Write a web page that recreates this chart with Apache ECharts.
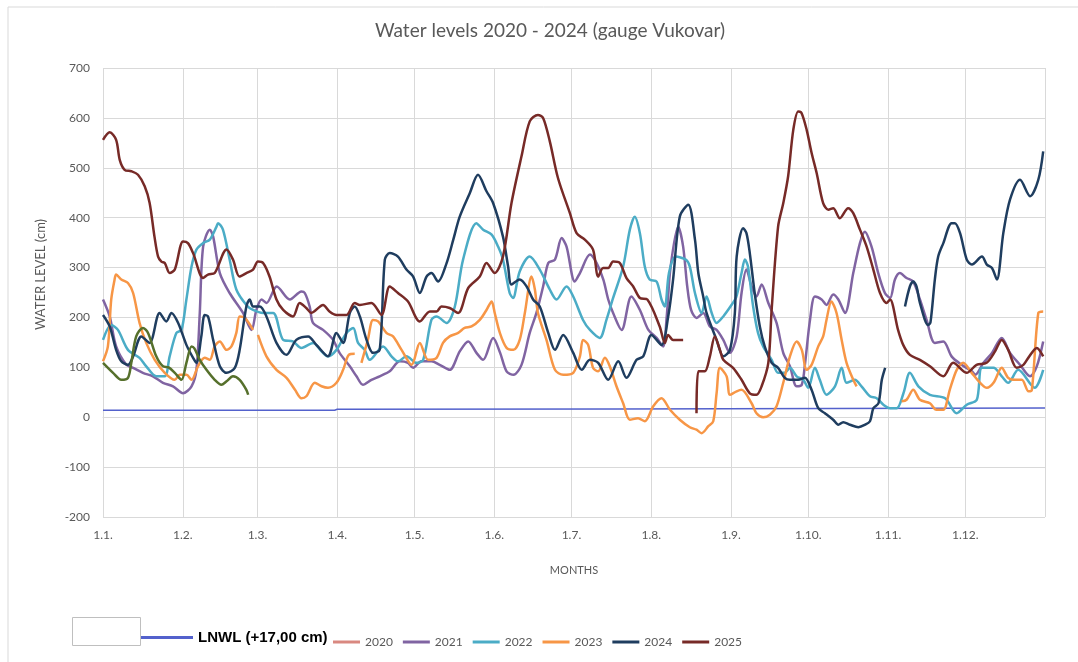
<!DOCTYPE html>
<html>
<head>
<meta charset="utf-8">
<script src="https://cdn.jsdelivr.net/npm/echarts@6/dist/echarts.min.js"></script>
<style>
html,body{margin:0;padding:0;background:#fff;}
#chart{width:1078px;height:662px;}
</style>
</head>
<body>
<div id="chart"></div>
<script>
// ---- DATA ----
const monthStartDays = [0, 31, 60, 91, 121, 152, 182, 213, 244, 274, 305, 335, 366];
const monthLabels = ['1.1.', '1.2.', '1.3.', '1.4.', '1.5.', '1.6.', '1.7.', '1.8.', '1.9.', '1.10.', '1.11.', '1.12.'];
const yearNames = ['2020', '2021', '2022', '2023', '2024', '2025'];

const lnwl = [[0, 14], [90, 14], [91, 16], [200, 16.5], [366, 18.5]];

const s2020 = [];

const s2021 = [[0,236],[2.6,202],[5.1,142],[9.1,105],[11.7,99],[15.5,89],[19.4,82],[23.3,69],[27.2,62],[31.1,48],[34.4,62],[36.3,95],[37.6,209],[38.9,342],[41.5,376],[42.8,362],[45.4,289],[49.2,249],[54.4,209],[57.7,175],[59.6,215],[61.6,236],[63.5,229],[67.5,262],[72.6,236],[77.1,252],[78.4,249],[80.3,222],[81.6,189],[85.5,175],[89.4,155],[91.9,129],[95.9,102],[98.5,82],[101,65],[104.3,75],[107.5,82],[111.4,92],[115.3,112],[118.5,109],[120.5,99],[123.7,112],[127.6,112],[130.8,105],[134.7,95],[138.6,132],[141.9,152],[145.1,129],[147.7,115],[151.6,159],[154.3,129],[156.8,92],[159.5,85],[162.6,105],[165.8,169],[168.4,209],[171,262],[173,309],[175.6,316],[178.2,359],[180.1,342],[183.3,272],[185.3,289],[189.2,326],[191.8,309],[194.4,276],[196.3,236],[198.2,209],[201.5,175],[205.3,242],[208.6,215],[211.9,175],[215.1,159],[217.6,142],[219,200],[220.5,300],[223.5,382],[225.4,342],[227,262],[228.5,215],[230.6,199],[233.2,209],[235.8,182],[238.4,175],[241,155],[243.6,129],[246.2,162],[248.1,249],[250,296],[252,262],[253.9,242],[255.9,266],[258.5,229],[261.7,189],[264.3,129],[266.9,102],[269.5,62],[271.5,65],[272.8,109],[274.7,195],[276.6,242],[279.2,236],[281.1,225],[283.7,246],[285.7,236],[288.3,209],[291.5,289],[294.1,349],[296,372],[298.6,342],[301.2,289],[303.8,249],[305.8,239],[307.7,276],[309.6,289],[312.2,279],[314.8,272],[317.4,236],[320,195],[323.2,149],[326.5,152],[329.7,122],[333.6,105],[337.6,92],[338.9,85],[342.1,109],[345.4,129],[349.2,159],[352.4,129],[356.3,105],[360.2,82],[362.8,102],[365.3,152]];

const s2022 = [[0,155],[3.2,185],[5.8,175],[9.7,135],[14.2,119],[16.8,102],[20.7,82],[24,82],[25.9,122],[28.5,169],[30.5,175],[32.4,236],[34.4,302],[36.3,336],[38.9,349],[41.5,356],[44.1,382],[44.7,389],[46.6,376],[49.2,316],[51.8,256],[55.7,225],[58.3,215],[62.2,209],[66.1,209],[70,155],[73.8,152],[77.1,139],[81.6,149],[84.9,132],[87.4,122],[90.7,135],[94.6,169],[97.2,179],[99.1,149],[101.7,135],[103.6,115],[108.8,142],[112.1,122],[114.6,112],[117.9,122],[121.8,109],[124.4,115],[127.6,195],[129.6,202],[133.5,189],[136.7,222],[139.9,316],[145.1,389],[147.7,376],[151,366],[153.5,342],[155.4,316],[158,249],[159.3,239],[161.9,292],[165.8,322],[169.7,296],[173.6,256],[176.2,236],[180.1,262],[182.7,242],[186.5,195],[189.2,175],[193,159],[195.6,195],[198.2,239],[202.1,302],[204.7,376],[206.6,402],[208.6,369],[210.5,302],[212.4,276],[215.1,272],[217,236],[218.3,222],[219.9,289],[222.5,322],[226.4,316],[228,302],[230,249],[232.6,209],[234.5,242],[236.5,209],[238.4,189],[241,202],[244.2,225],[246,240],[248.1,289],[249.4,316],[250.6,302],[252.6,222],[254.5,169],[256.5,142],[259.8,115],[262.3,89],[264.9,89],[266.9,99],[269.5,82],[272.1,75],[274,59],[276.6,99],[278.5,75],[281.1,45],[284.4,62],[287,99],[288.9,69],[292.1,75],[294.7,62],[298,42],[300.6,38],[303.2,25],[305.8,18],[308.4,18],[311,48],[313.5,89],[316.8,62],[321.3,45],[327.2,38],[331.7,8],[335.6,25],[339.5,35],[341.5,99],[346,99],[349.2,82],[351.7,69],[355.6,95],[362,59],[365.3,95]];

const s2023 = [[0,112],[1.9,142],[3.2,236],[4.5,276],[5.1,286],[7.1,276],[9.7,269],[11.7,249],[14.2,189],[16.8,149],[20.1,115],[24,89],[27.9,75],[29.8,85],[32.4,85],[34.4,75],[36.9,102],[39.5,119],[41.5,115],[43.4,142],[45.4,152],[48,135],[49.9,142],[51.8,169],[53.1,202],[55.1,199],[58.3,175],[59.2,null],[60.2,165],[63.5,122],[67.4,95],[71.3,79],[74.6,55],[77.1,38],[79,42],[82.3,69],[84.9,62],[87.4,59],[90.7,69],[93.3,95],[95.5,125],[97.8,127],[99,null],[100.4,109],[102.9,155],[104.9,195],[106.9,192],[110.1,169],[112.7,162],[116,135],[119.9,105],[123.1,149],[126.3,115],[129.6,119],[132.1,149],[134.7,162],[138,169],[140.5,179],[143.2,182],[146.4,195],[149,215],[151,232],[152.2,209],[154.2,169],[156.8,139],[159.5,135],[161.9,155],[163.9,209],[166.5,282],[167.8,256],[169,209],[172.3,155],[175.6,95],[178.8,85],[182.7,89],[185.3,122],[186.5,155],[188.5,145],[190.4,99],[192.4,92],[195,119],[196.9,102],[199.5,62],[202.1,28],[204.7,-5],[207.9,-2],[210.5,-8],[213.8,22],[217,38],[220.3,15],[224.1,-5],[228,-20],[230.6,-25],[232.6,-32],[235.2,-18],[237.1,-8],[238.4,48],[239.7,99],[242.3,82],[243.6,45],[246.2,52],[248.1,55],[252,28],[253.9,8],[256.5,0],[259.1,5],[261.7,22],[264.3,69],[266.9,122],[269.5,152],[271.5,135],[273.4,95],[275.3,105],[277.9,142],[279.8,162],[281.1,195],[283,232],[285,209],[287,155],[288.9,109],[291.5,75],[292.8,62],[300,null],[310.3,32],[312.2,35],[314.8,55],[317.4,35],[321.3,28],[323.8,15],[326.5,15],[329,55],[331.7,95],[334.2,109],[337.5,89],[340.8,69],[343.4,59],[346,69],[349.2,99],[351.7,79],[354.4,75],[357,75],[359.6,52],[360.9,55],[363.4,209],[365.3,212]];

const s2024 = [[0,205],[2.6,182],[5.1,135],[7.1,112],[9.7,105],[11.7,122],[14.9,162],[18.1,149],[22,209],[24.6,192],[26.6,209],[29.2,189],[32.4,145],[35,119],[36.3,109],[38.2,162],[39.5,205],[40.8,202],[42.8,155],[45.4,102],[48,89],[51.2,99],[53.1,135],[55.7,222],[57,236],[58.3,222],[60.9,222],[63.5,202],[67.4,149],[71.3,125],[75.1,155],[79.7,162],[82.9,145],[87.4,122],[90.7,169],[93.3,149],[95.9,209],[97.8,222],[99.8,202],[102.4,155],[104.9,129],[107.5,135],[109.5,316],[111.4,329],[114.6,322],[117.9,296],[120.5,282],[123.1,249],[125.7,282],[127.6,289],[130.2,272],[133.5,309],[136.1,356],[138.6,402],[142.5,449],[145.7,486],[149,453],[151.6,429],[155.4,362],[157.4,302],[158.7,266],[161.9,276],[164.6,262],[167.1,236],[169.7,222],[173,169],[175.6,135],[178.8,165],[182.7,129],[186,95],[189.2,115],[192.4,109],[196.3,75],[200.2,112],[203.4,79],[207.3,115],[209.9,122],[213.1,165],[217,145],[219.6,202],[221.5,276],[224.1,402],[227.4,426],[230,356],[231.3,289],[233.2,242],[234.5,209],[238.4,155],[241,122],[243.6,135],[245.5,209],[246.2,322],[248.7,379],[250,369],[251.3,329],[253.2,249],[255.2,182],[257.1,142],[259.8,109],[262.3,99],[264.9,79],[266.9,75],[270.1,75],[272.7,79],[275.3,55],[277.9,18],[280.5,8],[283.7,-5],[285.7,-15],[287.6,-10],[290.2,-15],[293.5,-20],[296.1,-15],[298,-8],[299.3,18],[301.3,28],[302.6,75],[303.9,99],[308,null],[311.6,222],[313.5,262],[314.8,272],[316.1,262],[317.4,229],[320.6,185],[321.5,190],[323.2,276],[324.5,322],[326.5,349],[329.7,389],[331,389],[333,369],[335.6,316],[337.6,306],[341.5,322],[343.4,306],[345.4,299],[347.3,276],[349.8,369],[352.4,436],[356.3,476],[360.2,443],[363.4,476],[365.3,533]];

const s2025 = [[0,556],[2.6,571],[5.1,556],[6.5,516],[8.4,496],[11,493],[13.6,486],[16.2,463],[18.1,430],[20,362],[21.4,322],[22.7,312],[24,309],[25.9,289],[27.9,296],[31.1,352],[33,349],[35,329],[38.9,279],[40.8,286],[43.4,289],[48,336],[50.5,316],[53,282],[55.7,289],[58.3,296],[60.2,312],[62.2,309],[64.7,282],[67.4,236],[70,215],[73.8,202],[76.4,229],[79,219],[80.9,209],[85.5,225],[88,212],[90.7,205],[94.6,205],[97.8,229],[99.8,225],[104.3,229],[108.2,205],[111.4,262],[114.6,249],[118.5,232],[123.1,192],[127,212],[129.6,212],[131.5,222],[134.7,219],[138,209],[141.9,259],[146.4,282],[149,309],[152.2,289],[155.4,322],[158.7,429],[162.6,523],[165.8,593],[169,606],[171,600],[173.6,553],[176.8,479],[181.4,409],[184,369],[187.2,356],[190.4,336],[192.4,282],[194.3,299],[196.3,299],[198.2,312],[200.8,309],[203.4,279],[206,262],[208.6,239],[211.5,236],[216.3,182],[218.3,149],[219.6,165],[221.5,155],[225.4,155],[228,null],[230.6,8],[231.3,92],[233.8,92],[235.8,122],[237.7,162],[239.7,135],[241,115],[244.8,99],[248.1,75],[251.3,48],[253.9,45],[255.9,62],[258.5,109],[259.8,216],[262.3,382],[264.3,429],[266.2,483],[268.2,576],[270.1,613],[271.4,610],[273.4,576],[275.3,530],[277.3,489],[279.8,429],[281.8,416],[283.7,419],[286.3,399],[289.5,419],[291.5,409],[294.1,376],[296.7,342],[299.3,296],[301.9,249],[304.5,229],[305.8,236],[308.9,175],[310.9,145],[313.5,125],[317.4,115],[321.3,102],[326.5,82],[330.3,109],[335.6,89],[339.4,105],[343.3,109],[346.6,132],[349.2,155],[351.7,135],[355,99],[357.6,105],[359.5,119],[362.8,139],[365.3,122]];

const sGreen = [[0,109],[3.9,89],[7.1,75],[9.7,79],[11,109],[12.9,162],[15.5,179],[17.5,169],[20.7,122],[23.3,102],[25.5,100],[27.9,89],[30.5,75],[32.4,109],[34.4,142],[35.5,138],[37.6,115],[40.2,95],[43.4,75],[46,65],[48,72],[50.5,82],[53.1,75],[55.7,55],[56.4,45]];

// ---- CHART ----
const chart = echarts.init(document.getElementById('chart'), null, {renderer: 'canvas'});
const FONT = 'Lato, "Liberation Sans", sans-serif';
const yearColors = ['#D98880', '#8064A2', '#4BACC6', '#F79646', '#1F3D5F', '#772A27'];
const yearData = [s2020, s2021, s2022, s2023, s2024, s2025];

function lineSeries(name, data, color, width, smooth) {
  return {
    name: name, type: 'line', data: data, showSymbol: false, symbol: 'none',
    smooth: smooth, connectNulls: false,
    lineStyle: {color: color, width: width}, itemStyle: {color: color},
    emphasis: {disabled: true}, silent: true
  };
}

const series = [lineSeries('LNWL (+17,00 cm)', lnwl, '#5361CC', 1.5, false)];
yearNames.forEach((n, i) => series.push(lineSeries(n, yearData[i], yearColors[i], 2.5, 0.3)));
series.push(lineSeries('olive', sGreen, '#56702C', 2.5, 0.3));

const option = {
  animation: false,
  backgroundColor: '#ffffff',
  title: {
    text: 'Water levels 2020 - 2024 (gauge Vukovar)',
    left: 550, top: 21, textAlign: 'center', padding: 0,
    textStyle: {fontFamily: FONT, fontSize: 19, fontWeight: 'normal', color: '#595959'}
  },
  legend: [
    {
      data: ['LNWL (+17,00 cm)'], left: 141, top: 630, icon: 'rect', padding: 0,
      itemWidth: 52, itemHeight: 3, selectedMode: false,
      textStyle: {fontFamily: '"Liberation Sans", Arial, sans-serif', fontWeight: 'bold', fontSize: 15, color: '#000'}
    },
    {
      data: yearNames, left: 333, top: 636, icon: 'rect', padding: 0,
      itemWidth: 27, itemHeight: 3, itemGap: 10, selectedMode: false,
      textStyle: {fontFamily: FONT, fontSize: 12, color: '#595959'}
    }
  ],
  grid: {left: 103, top: 68, width: 942, height: 449, containLabel: false, outerBoundsMode: 'none'},
  xAxis: {
    type: 'value', min: 0, max: 366,
    name: 'MONTHS', nameLocation: 'middle', nameGap: 48,
    nameTextStyle: {fontFamily: FONT, fontSize: 11, color: '#595959'},
    axisLine: {show: true, lineStyle: {color: '#D9D9D9'}},
    axisTick: {show: false, customValues: monthStartDays},
    splitLine: {show: true, lineStyle: {color: '#D9D9D9', width: 1}},
    axisLabel: {
      customValues: monthStartDays.slice(0, 12), margin: 12,
      fontFamily: FONT, fontSize: 12, color: '#595959',
      formatter: function (v) { const i = monthStartDays.indexOf(v); return i >= 0 && i < monthLabels.length ? monthLabels[i] : ''; }
    }
  },
  yAxis: {
    type: 'value', min: -200, max: 700, interval: 100,
    name: 'WATER LEVEL (cm)', nameLocation: 'middle', nameGap: 56, nameRotate: 90,
    nameTextStyle: {fontFamily: FONT, fontSize: 13, color: '#595959', padding: [0, 0, 0, 36]},
    axisLine: {show: false}, axisTick: {show: false},
    splitLine: {show: true, lineStyle: {color: '#D9D9D9', width: 1}},
    axisLabel: {fontFamily: FONT, fontSize: 12, color: '#595959', margin: 13}
  },
  graphic: [
    {type: 'rect', left: 5.5, top: 4.5, z: -10, silent: true,
     shape: {width: 1090, height: 680}, style: {fill: 'none', stroke: '#D9D9D9', lineWidth: 1}},
    {type: 'rect', left: 72, top: 617, silent: true,
     shape: {width: 68, height: 28}, style: {fill: '#fff', stroke: '#BFBFBF', lineWidth: 1}}
  ],
  series: series
};
chart.setOption(option);
</script>
</body>
</html>
